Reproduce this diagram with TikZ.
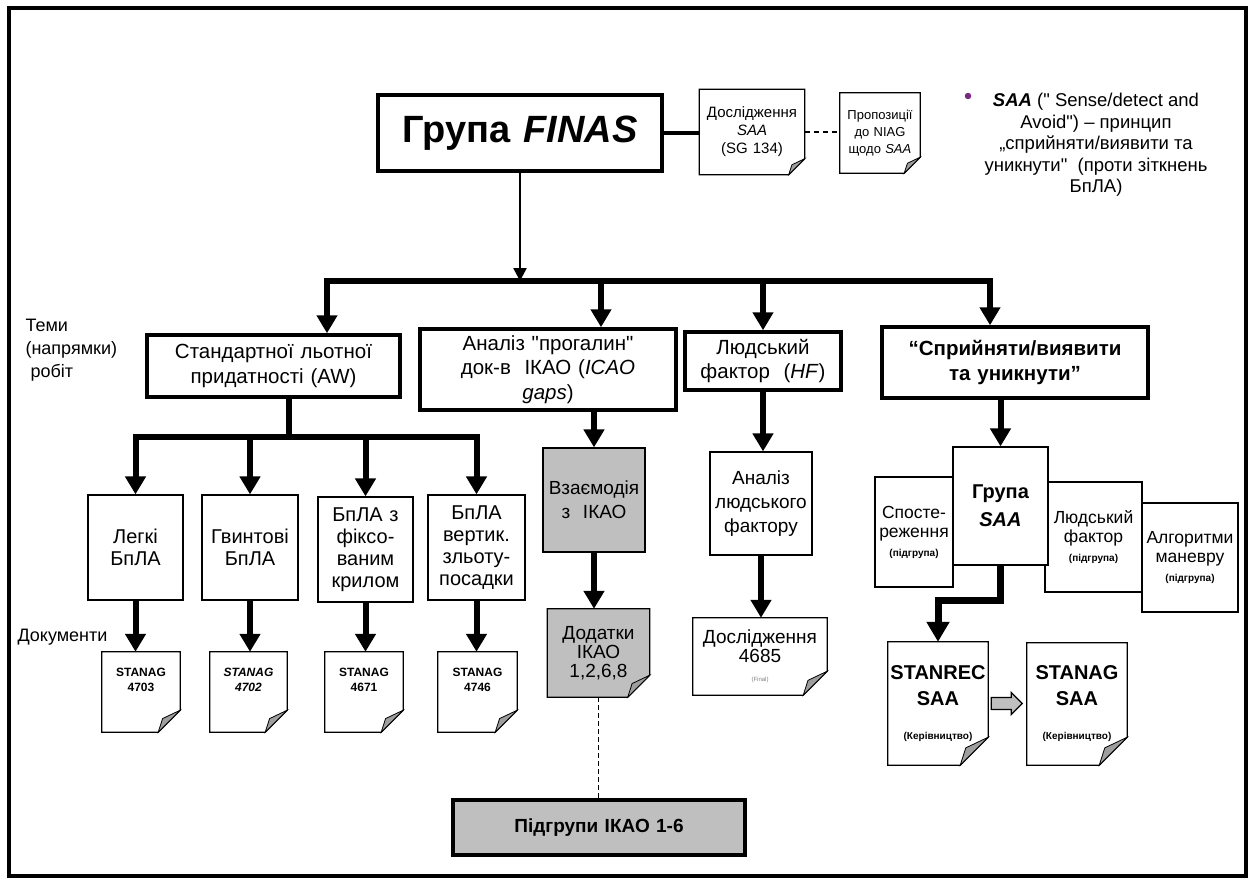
\documentclass[tikz,border=0pt]{standalone}
\usepackage{fontspec}
\setmainfont{Liberation Sans}
\usetikzlibrary{arrows.meta}
\pgfdeclarelayer{bg}
\pgfsetlayers{bg,main}
\definecolor{boxgray}{gray}{0.75}
\definecolor{foldgray}{gray}{0.62}
\definecolor{notepurple}{RGB}{120,40,130}
\newcommand{\fsz}[2]{\fontsize{#1}{#2}\selectfont}
\newcommand{\dq}{\textquotedbl}
\newcommand{\subgrp}{{\bfseries\fsz{10}{12}(підгрупа)}}
% frame of a sheet with a folded corner: node, fill, fold size
\newcommand{\foldframe}[3]{%
  \begin{pgfonlayer}{bg}
    \draw[line width=1.2pt, fill=#2] (#1.north west) -- (#1.north east) -- ([yshift=#3]#1.south east) -- ([xshift=-#3]#1.south east) -- (#1.south west) -- cycle;
    \draw[line width=0.8pt, fill=foldgray] ([yshift=#3]#1.south east) -- ([xshift=-#3]#1.south east) -- ([xshift=-0.8*#3, yshift=0.62*#3]#1.south east) -- cycle;
  \end{pgfonlayer}}
\tikzset{
  topic/.style={draw, line width=3.5pt, fill=white, align=center, inner sep=0pt, font=\fsz{20.5}{24.5}},
  uav/.style={draw, line width=1.2pt, fill=white, align=center, inner sep=0pt, font=\fsz{20}{22}},
  docnode/.style={align=center, inner sep=0pt},
  sz/.style 2 args={text width=#1, minimum height=#2},
  bigarrow/.style={line width=6pt, -{Triangle[length=18pt,width=20pt]}},
  busline/.style={line width=6pt, {Triangle[length=18pt,width=20pt]}-{Triangle[length=18pt,width=20pt]}},
  sidelabel/.style={anchor=west, align=left, font=\fsz{18}{23}}
}
\begin{document}
\begin{tikzpicture}[x=1pt, y=-1pt]
\useasboundingbox (0,0) rectangle (1252,880);
\draw[line width=3.5pt] (9,8) rectangle (1246,876);

% top group and its papers
\node[topic, line width=4pt, sz={284pt}{76pt}, font=\fsz{38}{42}\bfseries] (finas) at (520,133) {Група \textit{FINAS}};
\node[docnode, sz={105pt}{85pt}, font=\fsz{15}{18}] (study) at (752,132) {Дослідження\\\textit{SAA}\\(SG 134)};
\node[docnode, sz={80pt}{80pt}, font=\fsz{13}{17}] (niag) at (880,133) {Пропозиції\\до NIAG\\щодо \textit{SAA}};
\foldframe{study}{white}{16pt}
\foldframe{niag}{white}{16pt}
\draw[line width=4pt] (finas.east) -- (finas.east -| study.west);
\draw[line width=2.5pt, dash pattern=on 5pt off 4pt] (study.east) -- (study.east -| niag.west);

\node[circle, fill=notepurple, inner sep=2.3pt] (dot) at (968,96) {};
\node[align=center, font=\fsz{18.5}{21.5}] (note) at (1096,145) {\textbf{\textit{SAA}} (\dq\ Sense/detect and\\Avoid\dq) -- принцип\\„сприйняти/виявити та\\уникнути\dq\ \ (проти зіткнень\\БпЛА)};

% topics
\node[sidelabel] (themes) at (22,350) {Теми\\(напрямки)\\\hspace{5pt}робіт};
\node[topic, sz={253pt}{62pt}] (aw) at (273.5,366) {Стандартної льотної\\придатності (AW)};
\node[topic, sz={256pt}{81pt}] (gaps) at (548,369.5) {Аналіз \dq прогалин\dq\\док-в\ \ ІКАО (\textit{ICAO}\\\textit{gaps})};
\node[topic, sz={156pt}{58pt}] (hf) at (763,361) {Людський\\фактор\ \ (\textit{HF})};
\node[topic, sz={266pt}{71pt}, font=\fsz{20.5}{25}\bfseries] (saa) at (1015,362.5) {“Сприйняти/виявити\\та уникнути”};

\coordinate (b1) at (327,281);
\coordinate (b2) at (601,281);
\coordinate (b3) at (763,281);
\coordinate (b4) at (990,281);
\draw[line width=2.5pt, -{Triangle[length=13pt,width=13pt]}] (finas.south) -- (finas.south |- b1);
\draw[busline] (b1 |- aw.north) -- (b1) -- (b4) -- (b4 |- saa.north);
\draw[bigarrow] (b2) -- (b2 |- gaps.north);
\draw[bigarrow] (b3) -- (b3 |- hf.north);

% airworthiness branch
\node[uav, sz={95pt}{105pt}] (light) at (135.5,547.5) {Легкі\\БпЛА};
\node[uav, sz={96pt}{105pt}] (rotor) at (250,547.5) {Гвинтові\\БпЛА};
\node[uav, sz={95pt}{105pt}] (fixed) at (365.5,549.5) {БпЛА з\\фіксо-\\ваним\\крилом};
\node[uav, sz={97pt}{105pt}] (vtol) at (476.5,547.5) {БпЛА\\вертик.\\зльоту-\\посадки};
\coordinate (fork) at (289,437);
\draw[line width=6pt] (aw.south -| fork) -- (fork);
\draw[busline] (light.north) -- (light.north |- fork) -- (vtol.north |- fork) -- (vtol.north);
\draw[bigarrow] (rotor.north |- fork) -- (rotor.north);
\draw[bigarrow] (fixed.north |- fork) -- (fixed.north);

\node[sidelabel] (docs) at (14,637) {Документи};
\node[docnode, sz={78pt}{80pt}, font=\fsz{12}{14.5}\bfseries] (st1) at (141,692) {STANAG\\4703\\[10pt]\mbox{}};
\node[docnode, sz={77pt}{80pt}, font=\fsz{12}{14.5}\bfseries] (st2) at (248.5,692) {\textit{STANAG}\\\textit{4702}\\[10pt]\mbox{}};
\node[docnode, sz={78pt}{80pt}, font=\fsz{12}{14.5}\bfseries] (st3) at (364,692) {STANAG\\4671\\[10pt]\mbox{}};
\node[docnode, sz={79pt}{80pt}, font=\fsz{12}{14.5}\bfseries] (st4) at (477.5,692) {STANAG\\4746\\[10pt]\mbox{}};
\foreach \n in {st1,st2,st3,st4} {\foldframe{\n}{white}{22pt}}
\draw[bigarrow] (light.south) -- (light.south |- st1.north);
\draw[bigarrow] (rotor.south) -- (rotor.south |- st2.north);
\draw[bigarrow] (fixed.south) -- (fixed.south |- st3.north);
\draw[bigarrow] (vtol.south) -- (vtol.south |- st4.north);

% ICAO gaps branch
\node[uav, fill=boxgray, sz={102pt}{104pt}, font=\fsz{19}{24}] (icao) at (594,500) {Взаємодія\\з\ \ ІКАО};
\node[docnode, sz={102pt}{88pt}, font=\fsz{19}{19}] (annex) at (598.5,653) {Додатки\\ІКАО\\1,2,6,8};
\foldframe{annex}{boxgray}{22pt}
\node[draw, line width=4pt, fill=boxgray, sz={292pt}{55pt}, align=center, inner sep=0pt, font=\fsz{19}{22}\bfseries] (subgr) at (599,827.5) {Підгрупи ІКАО 1-6};
\draw[bigarrow] (gaps.south -| icao) -- (icao.north);
\draw[bigarrow] (icao.south) -- (icao.south |- annex.north);
\draw[line width=1.5pt, dash pattern=on 5pt off 3pt] (annex.south) -- (annex.south |- subgr.north);

% human factor branch
\node[uav, sz={102pt}{103pt}, font=\fsz{19}{24}] (hfan) at (761,503.5) {Аналіз\\людського\\фактору};
\node[docnode, sz={134pt}{77pt}, font=\fsz{19}{19}] (hfdoc) at (760,656.5) {Дослідження\\4685\\{\color{gray}\fsz{6}{10}(Final)}};
\foldframe{hfdoc}{white}{24pt}
\draw[bigarrow] (hf.south) -- (hf.south |- hfan.north);
\draw[bigarrow] (hfan.south) -- (hfan.south |- hfdoc.north);

% SAA branch
\node[uav, sz={97pt}{110pt}, font=\fsz{17.5}{19}] (human) at (1093.5,537) {Людський\\фактор\\\subgrp};
\node[uav, sz={96pt}{109pt}, font=\fsz{17.5}{19}] (algo) at (1190,557.5) {Алгоритми\\маневру\\\subgrp};
\node[uav, sz={78pt}{110pt}, font=\fsz{17.5}{19}] (watch) at (914,532) {Спосте-\\реження\\\subgrp};
\node[uav, sz={95pt}{118pt}, font=\fsz{20}{28}\bfseries] (saagr) at (1000.5,506) {Група\\\textit{SAA}};
\draw[bigarrow] (saa.south -| saagr) -- (saagr.north);

\node[docnode, sz={100pt}{123pt}, font=\fsz{20}{26}\bfseries] (stanrec) at (938,703.5) {STANREC\\SAA\\[8pt]{\fsz{10}{12}(Керівництво)}};
\node[docnode, sz={100pt}{122pt}, font=\fsz{20}{26}\bfseries] (stanag) at (1077,704) {STANAG\\SAA\\[8pt]{\fsz{10}{12}(Керівництво)}};
\foldframe{stanrec}{white}{28pt}
\foldframe{stanag}{white}{28pt}
\coordinate (bend) at (0,600);
\draw[line width=7pt, -{Triangle[length=20pt,width=22pt]}] (saagr.south) -- (saagr.south |- bend) -| (stanrec.north);
\draw[line width=1.2pt, fill=boxgray] ([xshift=3pt, yshift=6pt]stanrec.east) -- ++(20pt,0) -- ++(0,5pt) -- ++(11pt,-11pt) -- ++(-11pt,-11pt) -- ++(0,5pt) -- ++(-20pt,0) -- cycle;
\end{tikzpicture}
\end{document}
